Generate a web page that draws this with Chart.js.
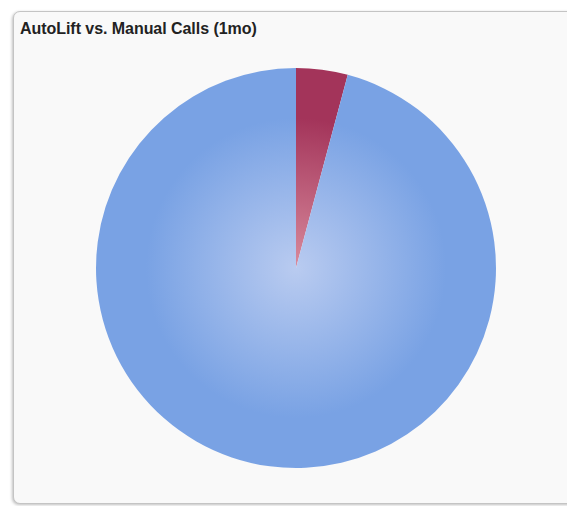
<!DOCTYPE html>
<html>
<head>
<meta charset="utf-8">
<script src="https://cdn.jsdelivr.net/npm/chart.js@4"></script>
<style>
  html, body { margin: 0; padding: 0; background: #ffffff; }
  body { width: 567px; height: 506px; overflow: hidden; position: relative; font-family: "Liberation Sans", Arial, sans-serif; }
  .panel {
    position: absolute; left: 13px; top: 11px; width: 600px; height: 491px;
    background: #f9f9f9; border: 1px solid #c4c4c4; border-radius: 7px;
    box-shadow: -1px 1px 3px rgba(0,0,0,0.25);
  }
  .title {
    position: absolute; left: 6px; top: 8px; margin: 0;
    font-size: 16px; font-weight: bold; color: #222; letter-spacing: -0.05px;
  }
  .chart-box { position: absolute; left: 81px; top: 55px; width: 402px; height: 402px; }
</style>
</head>
<body>
<div class="panel">
  <h3 class="title">AutoLift vs. Manual Calls (1mo)</h3>
  <div class="chart-box"><canvas id="callsChart"></canvas></div>
</div>
<script>
const labels = ["AutoLift", "Manual"];
const calls = [18, 414];
const edgeColors = ["#a3345a", "#79a2e4"];
const centerColors = ["#d88a9c", "#b9cbf0"];

// radial shading per slice, lighter toward the pie centre
function radialFill(context) {
  const chart = context.chart;
  const area = chart.chartArea;
  if (!area) return edgeColors[context.dataIndex];
  const cx = (area.left + area.right) / 2;
  const cy = (area.top + area.bottom) / 2;
  const r = Math.min(area.right - area.left, area.bottom - area.top) / 2;
  const g = chart.ctx.createRadialGradient(cx, cy, 0, cx, cy, r);
  g.addColorStop(0, centerColors[context.dataIndex]);
  g.addColorStop(0.75, edgeColors[context.dataIndex]);
  g.addColorStop(1, edgeColors[context.dataIndex]);
  return g;
}

const ctx = document.getElementById("callsChart").getContext("2d");
new Chart(ctx, {
  type: "pie",
  data: {
    labels: labels,
    datasets: [{
      data: calls,
      backgroundColor: radialFill,
      borderWidth: 0
    }]
  },
  options: {
    responsive: true,
    maintainAspectRatio: false,
    animation: false,
    layout: { padding: 1 },
    plugins: {
      legend: { display: false },
      tooltip: { enabled: false }
    }
  }
});
</script>
</body>
</html>
